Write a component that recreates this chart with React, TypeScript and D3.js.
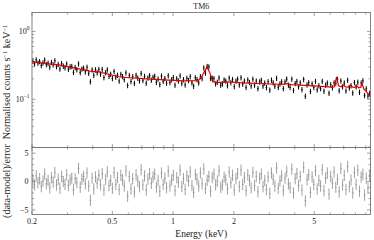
import React from 'react';
import * as d3 from 'd3';

// panel geometry
const W = 374, H = 240
const left = 32, right = 370.5
const topY = 12.5, splitY = 147.5, bottomY = 214.5

// model curve (keV, counts s^-1 keV^-1)
const modelEnergy = [0.2, 0.275, 0.387, 0.433, 0.545, 0.767, 1.13, 1.33, 1.39, 1.473, 1.53, 1.57, 1.65, 1.84, 2.2, 3.0, 3.5, 3.67, 3.85, 5.0, 6.1, 6.3, 6.45, 6.6, 6.8, 6.94, 7.15, 7.35, 7.51, 7.75, 7.95, 8.09, 8.3, 8.5, 8.63, 8.8, 9.1, 9.5]
const modelValue = [0.356, 0.318, 0.26, 0.251, 0.213, 0.198, 0.187, 0.189, 0.22, 0.30, 0.235, 0.182, 0.176, 0.181, 0.175, 0.168, 0.166, 0.172, 0.165, 0.158, 0.151, 0.153, 0.214, 0.158, 0.153, 0.163, 0.152, 0.151, 0.162, 0.151, 0.150, 0.16, 0.148, 0.15, 0.171, 0.142, 0.128, 0.108]

// binned spectrum, 200 log-spaced bins from 0.2 to 9.5 keV
const eMin = 0.2, eMax = 9.5
const counts = [
  0.364, 0.333, 0.382, 0.342, 0.361, 0.315, 0.344, 0.379, 0.325, 0.341,
  0.299, 0.350, 0.323, 0.370, 0.303, 0.328, 0.280, 0.336, 0.308, 0.291,
  0.332, 0.277, 0.301, 0.305, 0.250, 0.295, 0.274, 0.333, 0.248, 0.280,
  0.288, 0.254, 0.297, 0.242, 0.182, 0.271, 0.226, 0.272, 0.246, 0.276,
  0.235, 0.276, 0.209, 0.248, 0.272, 0.218, 0.234, 0.203, 0.257, 0.212,
  0.227, 0.186, 0.233, 0.217, 0.195, 0.246, 0.160, 0.225, 0.183, 0.215,
  0.172, 0.226, 0.205, 0.187, 0.240, 0.190, 0.218, 0.173, 0.206, 0.223,
  0.192, 0.211, 0.219, 0.178, 0.199, 0.165, 0.220, 0.184, 0.203, 0.173,
  0.222, 0.177, 0.195, 0.209, 0.162, 0.201, 0.186, 0.222, 0.172, 0.195,
  0.163, 0.204, 0.189, 0.216, 0.175, 0.156, 0.208, 0.195, 0.175, 0.216,
  0.202, 0.290, 0.244, 0.305, 0.301, 0.205, 0.204, 0.202, 0.169, 0.179,
  0.207, 0.162, 0.169, 0.193, 0.186, 0.159, 0.206, 0.176, 0.196, 0.154,
  0.186, 0.199, 0.163, 0.208, 0.168, 0.186, 0.150, 0.193, 0.177, 0.157,
  0.198, 0.162, 0.186, 0.144, 0.181, 0.191, 0.157, 0.174, 0.149, 0.182,
  0.137, 0.192, 0.175, 0.156, 0.204, 0.150, 0.169, 0.182, 0.144, 0.180,
  0.199, 0.162, 0.150, 0.198, 0.135, 0.171, 0.184, 0.153, 0.175, 0.139,
  0.196, 0.111, 0.163, 0.176, 0.131, 0.169, 0.150, 0.184, 0.138, 0.159,
  0.144, 0.184, 0.132, 0.162, 0.174, 0.123, 0.164, 0.148, 0.175, 0.173,
  0.197, 0.134, 0.187, 0.153, 0.174, 0.133, 0.191, 0.147, 0.159, 0.124,
  0.177, 0.153, 0.179, 0.127, 0.174, 0.188, 0.114, 0.143, 0.112, 0.122,
]
const relErr = 0.09

// (data-model)/error per bin
const residuals = [
  0.3, -0.6, 1.0, -0.2, 0.5, -0.9, 0.1, 1.3, -0.4, 0.2,
  -1.1, 0.7, -0.1, 1.6, -0.6, 0.4, -1.2, 0.9, 0.0, -0.5,
  1.2, -0.7, 0.3, 0.6, -1.4, 0.5, -0.2, 2.3, -1.0, 0.4,
  0.9, -0.4, 1.5, -0.8, -3.3, 0.6, -1.3, 0.8, -0.3, 1.1,
  -0.6, 1.4, -1.5, 0.4, 1.7, -0.7, 0.2, -1.2, 1.6, -0.5,
  0.7, -1.4, 1.1, 0.3, -0.8, 1.9, -2.6, 0.9, -1.3, 0.5,
  -1.8, 1.2, 0.1, -0.9, 2.1, -0.6, 1.0, -1.5, 0.4, 1.4,
  -0.3, 0.8, 1.3, -1.0, 0.2, -1.7, 1.5, -0.5, 0.6, -1.1,
  1.8, -0.8, 0.3, 1.1, -1.6, 0.7, -0.1, 2.0, -0.9, 0.5,
  -1.4, 1.0, 0.1, 1.7, -0.7, -1.9, 1.2, 0.4, -0.8, 1.5,
  -0.4, 2.2, -1.2, 0.2, 0.9, -1.7, 0.7, 1.3, -0.6, 0.1,
  1.9, -1.0, -0.6, 0.8, 0.3, -1.3, 1.7, -0.2, 1.1, -1.5,
  0.5, 1.4, -0.9, 2.0, -0.5, 0.7, -1.6, 1.2, 0.2, -1.1,
  1.6, -0.7, 0.9, -1.8, 0.6, 1.3, -0.9, 0.2, -1.4, 0.8,
  -2.1, 1.5, 0.4, -0.8, 2.4, -1.2, 0.1, 1.0, -1.6, 0.6,
  1.8, -0.4, -1.1, 2.2, -2.0, 0.5, 1.4, -0.7, 0.9, -1.5,
  2.5, -3.4, 0.3, 1.2, -1.9, 0.8, -0.5, 1.9, -1.3, 0.2,
  -0.8, 2.1, -1.6, 0.6, 1.5, -2.2, 0.9, -0.3, 1.7, -1.0,
  0.4, -1.8, 2.3, -0.6, 1.1, -1.4, 2.6, -0.9, 0.3, -2.0,
  1.6, -0.5, 2.0, -1.7, 0.8, 1.3, -2.4, 0.6, -1.2, 1.0,
]

const xTickLabels = [0.2, 0.5, 1, 2, 5]
const resMajor = [-5, 0, 5]

const font = '"Liberation Serif", "Times New Roman", serif'
const axisColor = '#777'

export default function App() {
  const x = d3.scaleLog().domain([eMin, eMax]).range([left, right])
  const yTop = d3.scaleLog().domain([0.0195, 1.9]).range([splitY, topY])
  const yRes = d3.scaleLinear().domain([-5.8, 6]).range([bottomY, splitY])

  const n = counts.length
  const edges = d3.range(n + 1).map(i => eMin * Math.pow(eMax / eMin, i / n))
  const bins = counts.map((c, i) => ({
    lo: edges[i], hi: edges[i + 1], mid: Math.sqrt(edges[i] * edges[i + 1]), c, r: residuals[i],
  }))

  const modelLine = d3.line<number>()
    .x((_, i) => x(modelEnergy[i]))
    .y(d => yTop(d))(modelValue) || ''

  const xTicks = x.ticks()
  const yTicks = yTop.ticks()
  const resTicks = d3.range(-5, 7, 1)

  const major = 3.5, minor = 2

  return (
    <svg width={W} height={H} style={{position: 'absolute', left: 0, top: 0, background: '#fff'}} fontFamily={font}>
      <defs>
        <clipPath id="clipTop"><rect x={left} y={topY} width={right - left} height={splitY - topY} /></clipPath>
        <clipPath id="clipRes"><rect x={left} y={splitY} width={right - left} height={bottomY - splitY} /></clipPath>
      </defs>

      {/* spectrum */}
      <g clipPath="url(#clipTop)" stroke="#000">
        {bins.map((b, i) => (
          <g key={i}>
            <line x1={x(b.mid)} x2={x(b.mid)} y1={yTop(b.c * (1 - relErr))} y2={yTop(b.c * (1 + relErr))} strokeWidth={1} />
            <line x1={x(b.lo)} x2={x(b.hi)} y1={yTop(b.c)} y2={yTop(b.c)} strokeWidth={0.8} />
          </g>
        ))}
        <path d={modelLine} fill="none" stroke="#e00000" strokeWidth={1.2} />
      </g>

      {/* residuals */}
      <g clipPath="url(#clipRes)" stroke="#7a7a7a" strokeOpacity={0.8}>
        {bins.map((b, i) => (
          <g key={i}>
            <line x1={x(b.mid)} x2={x(b.mid)} y1={yRes(b.r - 1)} y2={yRes(b.r + 1)} strokeWidth={0.9} />
            <line x1={x(b.lo)} x2={x(b.hi)} y1={yRes(b.r)} y2={yRes(b.r)} strokeWidth={0.7} />
          </g>
        ))}
      </g>

      {/* frames */}
      <g fill="none" stroke={axisColor} strokeWidth={0.9}>
        <rect x={left} y={topY} width={right - left} height={splitY - topY} />
        <rect x={left} y={splitY} width={right - left} height={bottomY - splitY} />
      </g>

      {/* ticks, inward on every spine */}
      <g stroke={axisColor} strokeWidth={0.7}>
        {xTicks.map((t, i) => {
          const len = xTickLabels.includes(+t.toPrecision(3)) ? major : minor
          const px = x(t)
          return (
            <g key={i}>
              <line x1={px} x2={px} y1={topY} y2={topY + len} />
              <line x1={px} x2={px} y1={splitY} y2={splitY - len} />
              <line x1={px} x2={px} y1={splitY} y2={splitY + len} />
              <line x1={px} x2={px} y1={bottomY} y2={bottomY - len} />
            </g>
          )
        })}
        {yTicks.map((t, i) => {
          const lg = Math.log10(t)
          const len = Math.abs(lg - Math.round(lg)) < 1e-6 ? major : minor
          const py = yTop(t)
          return (
            <g key={i}>
              <line x1={left} x2={left + len} y1={py} y2={py} />
              <line x1={right} x2={right - len} y1={py} y2={py} />
            </g>
          )
        })}
        {resTicks.map((t, i) => {
          const len = resMajor.includes(t) ? major : minor
          const py = yRes(t)
          return (
            <g key={i}>
              <line x1={left} x2={left + len} y1={py} y2={py} />
              <line x1={right} x2={right - len} y1={py} y2={py} />
            </g>
          )
        })}
      </g>

      {/* tick labels */}
      <g fontSize={8} fill="#222">
        {xTickLabels.map(t => (
          <text key={t} x={x(t)} y={224} textAnchor="middle">{t}</text>
        ))}
        {[1, 0.1].map(t => (
          <text key={t} x={29.5} y={yTop(t) + 2.5} textAnchor="end">
            10<tspan dy={-3.5} fontSize={5.5}>{t === 1 ? '0' : '−1'}</tspan>
          </text>
        ))}
        {resMajor.map(t => (
          <text key={t} x={28.5} y={yRes(t) + 2.8} textAnchor="end">{t < 0 ? '−' + Math.abs(t) : t}</text>
        ))}
      </g>

      {/* titles */}
      <text x={(left + right) / 2} y={9} fontSize={8} textAnchor="middle" fill="#222">TM6</text>
      <text x={(left + right) / 2} y={236.5} fontSize={9.5} textAnchor="middle" fill="#222">Energy (keV)</text>
      <text transform={`translate(10,${(topY + splitY) / 2 + 2}) rotate(-90)`} fontSize={10} textAnchor="middle" fill="#222">
        Normalised counts s<tspan dy={-3.5} fontSize={6.5}>−1</tspan><tspan dy={3.5}> keV</tspan><tspan dy={-3.5} fontSize={6.5}>−1</tspan>
      </text>
      <text transform={`translate(10,${(splitY + bottomY) / 2}) rotate(-90)`} fontSize={10} textAnchor="middle" fill="#222">
        (data-model)/error
      </text>
    </svg>
  )
}
